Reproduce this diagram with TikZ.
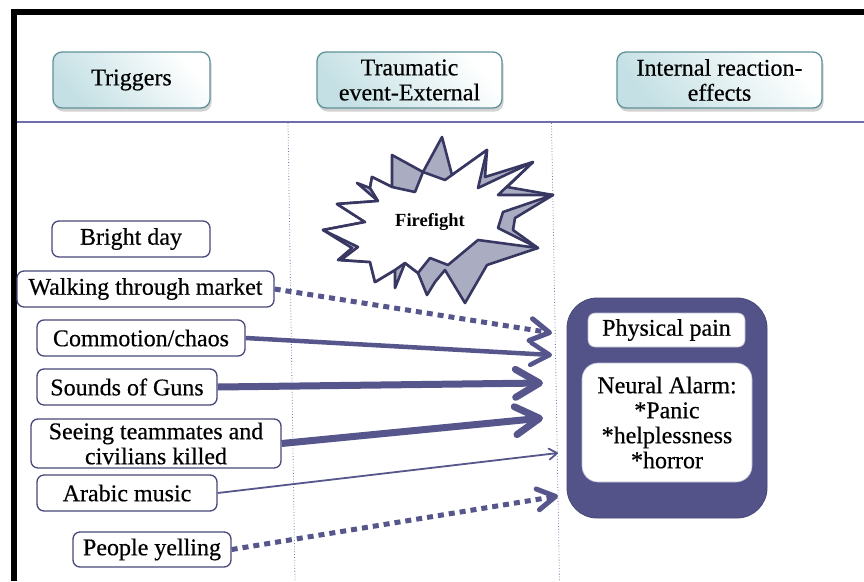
\documentclass[tikz,border=0pt]{standalone}
\usepackage{fontspec}
\setmainfont{Liberation Serif}
\newfontfamily\boxfont[FakeBold=0.45]{Liberation Serif}
\usetikzlibrary{arrows.meta,shadows}

\definecolor{slate}{RGB}{83,83,138}
\definecolor{arrowc}{RGB}{86,86,140}
\definecolor{burstline}{RGB}{55,55,98}
\definecolor{burstgray}{RGB}{170,172,194}
\definecolor{hdrline}{RGB}{95,145,152}
\definecolor{hdrfill}{RGB}{196,224,228}
\definecolor{trigline}{RGB}{72,72,122}
\definecolor{divider}{RGB}{110,110,170}
\definecolor{guide}{RGB}{120,120,175}

\begin{document}
\begin{tikzpicture}[x=1pt,y=-1pt,
  bigtext/.style={font=\boxfont\fontsize{24}{25}\selectfont},
  header/.style={bigtext, draw=hdrline, line width=1.3pt, rounded corners=9pt,
    top color=white, bottom color=hdrfill, shading angle=-50,
    drop shadow={shadow xshift=1.5pt, shadow yshift=-3.5pt, opacity=0.35},
    inner sep=0pt, align=center},
  trigger/.style={bigtext, draw=trigline, line width=1.3pt, fill=white,
    rounded corners=7pt, inner sep=0pt, align=center},
  innerbox/.style={bigtext, fill=white, draw=slate!40, line width=0.6pt,
    inner sep=0pt, align=center},
  guideline/.style={guide, line width=0.8pt, dotted},
  link/.style={arrowc, line cap=butt},
  dotlink/.style={link, line width=5pt, dash pattern=on 6pt off 5pt},
  burst/.style={draw=burstline, line width=2.6pt, line join=round},
]
\useasboundingbox (0,0) rectangle (864,581);
\fill[white] (0,0) rectangle (864,581);

% frame and column guides
\draw[line width=6pt] (13.8,581) -- (13.8,12) -- (864,12);
\draw[divider, line width=1.6pt] (16.7,122) -- (864,122);
\draw[guideline] (288,123) -- (295,581);
\draw[guideline] (551.5,123) -- (559.5,581);

% column headers
\node[header, minimum width=157pt, minimum height=56pt] (hTrig) at (131.5,80) {Triggers};
\node[header, minimum width=185pt, minimum height=56pt] (hEvent) at (409.5,80) {Traumatic\\event-External};
\node[header, minimum width=205pt, minimum height=56pt] (hEffect) at (719.5,80) {Internal reaction-\\effects};

% explosion: back layer
\path[burst, fill=burstgray]
  (323,230) -- (365,222) -- (337,204) -- (378,201) -- (357,183) -- (370,188)
  -- (372,177) -- (392,187) -- (392,155) -- (423,172) -- (442,137) -- (452,175)
  -- (487,150) -- (485,177) -- (533,162) -- (507,187) -- (553,195) -- (515,218)
  -- (513,230) -- (538,248) -- (487,265) -- (465,303) -- (445,270) -- (435,282)
  -- (427,295) -- (418,273) -- (405,263) -- (395,288) -- (395,270) -- (375,282)
  -- (370,262) -- (338,260) -- (352,248) -- cycle;
% explosion: front layer
\path[burst, fill=white]
  (323,230) -- (365,222) -- (337,204) -- (378,201) -- (370,188) -- (372,177)
  -- (392,187) -- (415,192) -- (423,172) -- (445,180) -- (487,150) -- (478,188)
  -- (533,162) -- (498,195) -- (553,195) -- (503,212) -- (498,228) -- (538,248)
  -- (478,240) -- (448,265) -- (430,258) -- (418,273) -- (405,263) -- (395,270)
  -- (375,282) -- (370,262) -- (341,260) -- (358,247) -- cycle;
\node[font=\fontsize{18.5}{20}\selectfont\bfseries] (fire) at (430,222) {Firefight};

% triggers
\node[trigger, minimum width=158pt, minimum height=36pt] (bright) at (131,239) {Bright day};
\node[trigger, minimum width=257pt, minimum height=36pt] (walk) at (145.5,289) {Walking through market};
\node[trigger, minimum width=208pt, minimum height=36pt] (chaos) at (141,338) {Commotion/chaos};
\node[trigger, minimum width=180pt, minimum height=36pt] (guns) at (127,387) {Sounds of Guns};
\node[trigger, minimum width=250pt, minimum height=49pt] (seeing) at (156,443.5) {Seeing teammates and\\civilians killed};
\node[trigger, minimum width=180pt, minimum height=36pt] (music) at (127,493) {Arabic music};
\node[trigger, minimum width=158pt, minimum height=35pt] (yell) at (152,549.5) {People yelling};

% internal reaction panel
\node[fill=slate, draw=slate!85!black, line width=0.8pt, rounded corners=30pt,
  minimum width=200pt, minimum height=220pt] (panel) at (667,408) {};
\node[innerbox, rounded corners=7pt, minimum width=157pt, minimum height=34pt] (pain) at (666.5,330) {Physical pain};
\node[innerbox, rounded corners=16pt, minimum width=170pt, minimum height=119pt] (alarm) at (667,422.5)
  {Neural Alarm:\\*Panic\\*helplessness\\*horror};

% arrow targets on the guide line
\coordinate (tWalk) at (552,333);
\coordinate (tChaos) at (552,355);
\coordinate (tGuns) at (543,383);
\coordinate (tSeeing) at (543,418);
\coordinate (tMusic) at (558,453);
\coordinate (tYell) at (558,496);

% connectors
\draw[dotlink, -{Straight Barb[length=19pt,width=22pt,round]}] (walk.east) -- (tWalk);
\draw[link, line width=4.5pt, -{Straight Barb[length=19pt,width=22pt,round]}] (chaos.east) -- (tChaos);
\draw[link, line width=7pt, -{Straight Barb[length=24pt,width=28pt,round]}] (guns.east) -- (tGuns);
\draw[link, line width=7pt, -{Straight Barb[length=24pt,width=28pt,round]}] (seeing.east) -- (tSeeing);
\draw[link, line width=1.8pt, -{Straight Barb[length=8pt,width=11pt,round]}] (music.east) -- (tMusic);
\draw[dotlink, -{Straight Barb[length=18pt,width=21pt,round]}] (yell.east) -- (tYell);
\end{tikzpicture}
\end{document}
